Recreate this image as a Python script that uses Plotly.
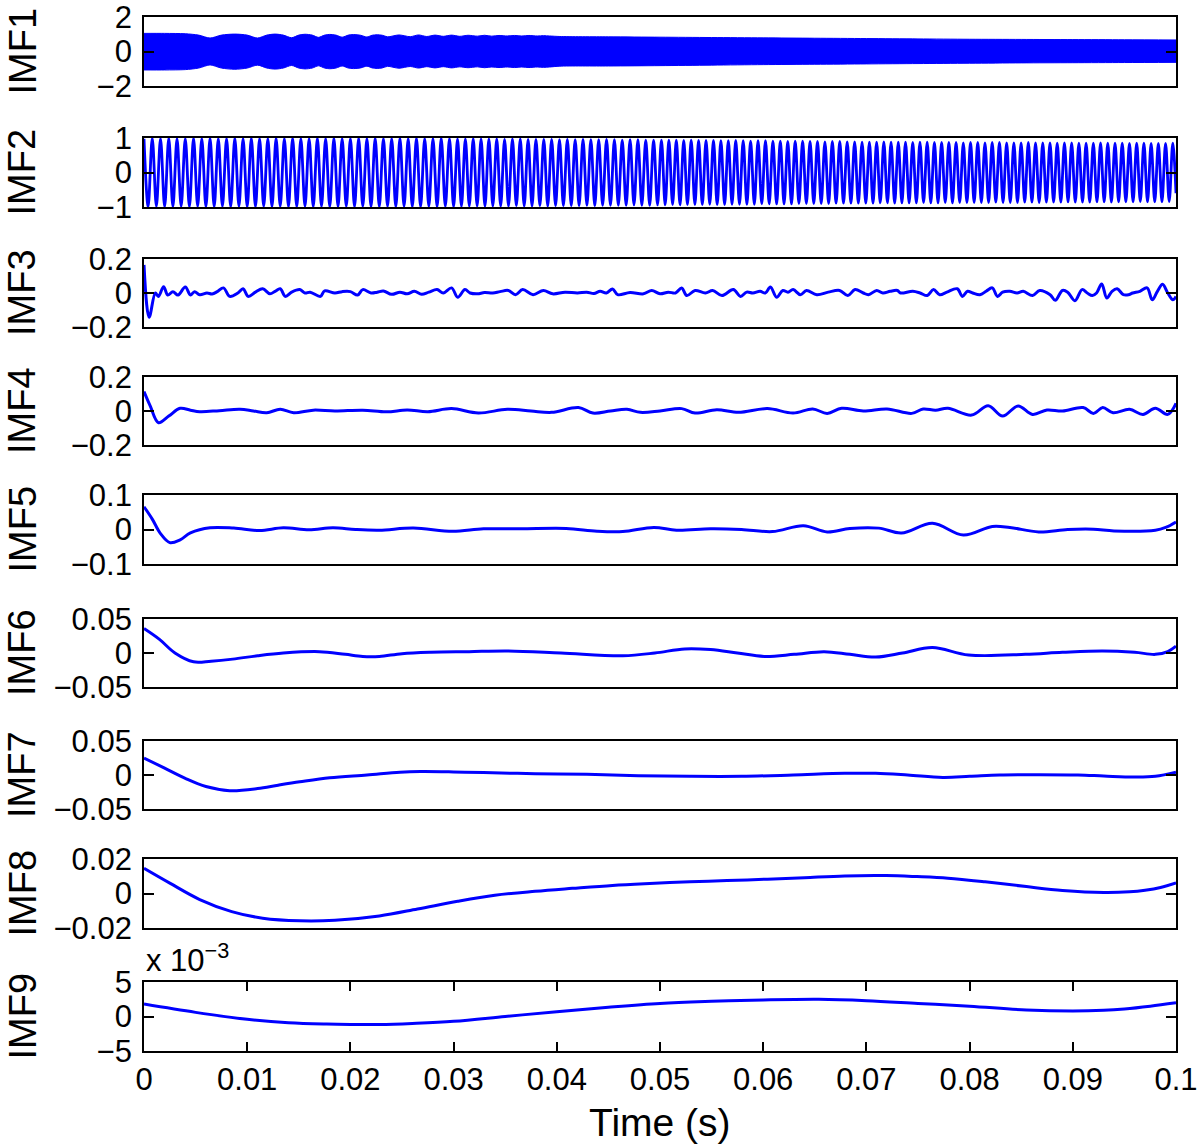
import numpy as np
import plotly.graph_objects as go
from plotly.subplots import make_subplots

# ---- data (time in ms unless noted) ----

# IMF1 is a very dense oscillation: drawn as the band between its envelopes
imf1_upper_t = [0, 2, 4, 5.3, 6.4, 7.5, 8.8, 10, 11, 11.9, 12.7, 13.5, 14.3, 15, 15.6, 16.3, 16.9, 17.5,
                18, 18.6, 19.2, 19.8, 20.3, 21, 21.6, 22.1, 22.6, 23.1, 23.6, 24.7, 25.8, 26.6, 27.4,
                28.2, 29, 29.8, 30.6, 31.4, 32.3, 33, 33.7, 34.4, 35.2, 35.9, 36.6, 37.3, 38.1, 38.7,
                39.3, 40.3, 45, 50, 55, 60, 65, 70, 75, 80, 85, 90, 95, 100]
imf1_upper_v = [1.05, 1.05, 1.03, 0.95, 0.78, 0.95, 1.01, 0.95, 0.78, 0.95, 1.01, 0.95, 0.80, 0.95, 1.00,
                0.95, 0.82, 0.95, 0.99, 0.95, 0.83, 0.95, 0.98, 0.94, 0.84, 0.94, 0.97, 0.94, 0.85, 0.96,
                0.86, 0.96, 0.87, 0.95, 0.88, 0.95, 0.88, 0.94, 0.89, 0.94, 0.89, 0.93, 0.90, 0.93, 0.90,
                0.93, 0.90, 0.92, 0.90, 0.87, 0.85, 0.83, 0.81, 0.79, 0.77, 0.75, 0.73, 0.71, 0.70, 0.69,
                0.68, 0.67]
imf1_lower_t = imf1_upper_t
imf1_lower_v = [-1.07, -1.07, -1.05, -0.96, -0.78, -0.96, -1.03, -0.96, -0.79, -0.96, -1.02, -0.96, -0.81,
                -0.96, -1.01, -0.96, -0.83, -0.96, -1.00, -0.96, -0.84, -0.96, -0.99, -0.95, -0.85, -0.95,
                -0.98, -0.95, -0.86, -0.97, -0.87, -0.96, -0.88, -0.95, -0.88, -0.95, -0.89, -0.94, -0.89,
                -0.94, -0.90, -0.93, -0.90, -0.93, -0.90, -0.93, -0.90, -0.92, -0.90, -0.85, -0.84, -0.82,
                -0.79, -0.76, -0.74, -0.72, -0.70, -0.68, -0.66, -0.65, -0.64, -0.63]

# IMF2 extrema, time in units of 10 microseconds
imf2_t = [0, 40, 80, 120, 160, 200, 240, 280, 320, 360,
          400, 440, 480, 520, 560, 600, 640, 680, 720, 760,
          800, 840, 880, 920, 960, 1000, 1040, 1080, 1120, 1160,
          1200, 1240, 1280, 1320, 1360, 1400, 1440, 1480, 1520, 1560,
          1600, 1640, 1680, 1720, 1760, 1800, 1840, 1880, 1920, 1960,
          2000, 2040, 2080, 2120, 2160, 2200, 2240, 2280, 2320, 2360,
          2400, 2440, 2480, 2520, 2560, 2600, 2640, 2680, 2720, 2760,
          2800, 2840, 2880, 2920, 2960, 3000,
          3038, 3076, 3114, 3152, 3190, 3228, 3266, 3304, 3342, 3380,
          3418, 3456, 3494, 3532, 3570, 3608, 3646, 3684, 3722, 3760,
          3798, 3836, 3874, 3912, 3950, 3988, 4026, 4064, 4102, 4140,
          4178, 4216, 4254, 4292, 4330, 4368, 4406, 4444, 4482, 4520,
          4558, 4596, 4634, 4672, 4710, 4748, 4786, 4824, 4862, 4900,
          4938, 4976, 5014,
          5050, 5086, 5122, 5158, 5194, 5230, 5266, 5302, 5338, 5374,
          5410, 5446, 5482, 5518, 5554, 5590, 5626, 5662, 5698, 5734,
          5770, 5806, 5842, 5878, 5914, 5950, 5986, 6022, 6058, 6094,
          6130, 6166, 6202, 6238, 6274, 6310, 6346, 6382, 6418, 6454,
          6490, 6526, 6562, 6598, 6634, 6670, 6706, 6742, 6778, 6814,
          6850, 6886, 6922, 6958, 6994,
          7029, 7064, 7099, 7134, 7169, 7204, 7239, 7274, 7309, 7344,
          7379, 7414, 7449, 7484, 7519, 7554, 7589, 7624, 7659, 7694,
          7729, 7764, 7799, 7834, 7869, 7904, 7939, 7974, 8009, 8044,
          8079, 8114, 8149, 8184, 8219, 8254, 8289, 8324, 8359, 8394,
          8429, 8464, 8499, 8534, 8569, 8604, 8639, 8674, 8709, 8744,
          8779, 8814, 8849, 8884, 8919, 8954, 8989, 9024, 9059, 9094,
          9129, 9164, 9199, 9234, 9269, 9304, 9339, 9374, 9409, 9444,
          9479, 9514, 9549, 9584, 9619, 9654, 9689, 9724, 9759, 9794,
          9829, 9864, 9899, 9934, 9969, 10000]
imf2_v = [0.98, -0.99, 0.99, -0.98, 0.98, -0.99, 0.99, -0.99, 0.98, -0.98,
          0.98, -0.99, 0.99, -0.98, 0.98, -0.99, 0.99, -0.99, 0.98, -0.98,
          0.98, -0.99, 0.99, -0.98, 0.98, -0.99, 0.99, -0.99, 0.98, -0.98,
          0.98, -0.99, 0.99, -0.98, 0.98, -0.99, 0.99, -0.99, 0.98, -0.98,
          0.98, -0.99, 0.99, -0.98, 0.98, -0.99, 0.99, -0.99, 0.98, -0.98,
          0.98, -0.99, 0.99, -0.98, 0.98, -0.99, 0.99, -0.99, 0.98, -0.98,
          0.98, -0.99, 0.99, -0.98, 0.98, -0.99, 0.99, -0.99, 0.98, -0.98,
          0.98, -0.99, 0.99, -0.98, 0.98, -0.99,
          0.97, -0.98, 0.97, -0.97, 0.98, -0.97, 0.97, -0.98, 0.97, -0.97,
          0.97, -0.97, 0.96, -0.97, 0.97, -0.96, 0.97, -0.97, 0.96, -0.97,
          0.96, -0.96, 0.96, -0.97, 0.96, -0.96, 0.95, -0.96, 0.96, -0.96,
          0.95, -0.96, 0.96, -0.95, 0.95, -0.96, 0.95, -0.95, 0.96, -0.95,
          0.95, -0.95, 0.94, -0.95, 0.95, -0.94, 0.95, -0.95, 0.94, -0.95,
          0.94, -0.94, 0.94,
          -0.94, 0.94, -0.93, 0.94, -0.94, 0.93, -0.93, 0.94, -0.93, 0.93,
          -0.93, 0.93, -0.92, 0.93, -0.93, 0.92, -0.93, 0.92, -0.92, 0.93,
          -0.92, 0.92, -0.92, 0.91, -0.92, 0.92, -0.91, 0.92, -0.91, 0.91,
          -0.91, 0.91, -0.91, 0.90, -0.91, 0.91, -0.90, 0.91, -0.90, 0.90,
          -0.90, 0.90, -0.90, 0.89, -0.90, 0.90, -0.89, 0.90, -0.89, 0.89,
          -0.89, 0.89, -0.89, 0.88, -0.89,
          0.88, -0.89, 0.88, -0.88, 0.89, -0.88, 0.88, -0.89, 0.88, -0.88,
          0.88, -0.88, 0.87, -0.88, 0.88, -0.87, 0.88, -0.88, 0.87, -0.88,
          0.87, -0.87, 0.87, -0.88, 0.87, -0.87, 0.86, -0.87, 0.87, -0.87,
          0.87, -0.87, 0.86, -0.87, 0.87, -0.86, 0.87, -0.87, 0.86, -0.87,
          0.86, -0.87, 0.86, -0.86, 0.87, -0.86, 0.86, -0.87, 0.86, -0.86,
          0.86, -0.86, 0.85, -0.86, 0.86, -0.85, 0.86, -0.86, 0.85, -0.86,
          0.85, -0.86, 0.85, -0.85, 0.86, -0.85, 0.85, -0.86, 0.85, -0.85,
          0.85, -0.85, 0.84, -0.85, 0.85, -0.84, 0.85, -0.85, 0.84, -0.85,
          0.84, -0.85, 0.84, -0.84, 0.85, -0.6]

imf3_t = [0, 0.5, 1.1, 1.4, 1.9, 2.3, 2.8, 3.3, 4.0, 4.5, 4.9, 5.4, 6.1, 6.6, 7.1, 7.7, 8.3, 9.1, 9.6, 10.1,
          10.8, 11.5, 12.2, 12.7, 13.2, 13.7, 14.3, 15.1, 15.6, 16.1, 17.1, 17.5, 18.5, 19.2, 20.0, 20.7,
          21.2, 22.0, 22.6, 23.2, 24.0, 24.8, 25.5, 26.2, 26.9, 27.6, 28.4, 29.0, 29.8, 30.4, 31.1, 31.6,
          32.3, 33.0, 33.8, 34.5, 35.3, 36.0, 36.7, 37.7, 38.7, 39.6, 40.8, 42.0, 42.9, 43.6, 44.2, 44.8,
          45.4, 45.9, 47.1, 48.4, 49.2, 50.0, 50.8, 51.5, 52.1, 52.6, 53.4, 54.4, 55.1, 56.0, 57.1, 57.8,
          58.4, 59.0, 59.7, 60.2, 60.7, 61.3, 61.9, 62.4, 62.9, 63.6, 64.2, 65.2, 66.3, 67.4, 68.2, 68.9,
          69.7, 70.2, 71.0, 71.6, 72.3, 73.0, 73.3, 74.5, 75.2, 75.9, 76.5, 77.1, 77.8, 78.8, 79.3, 79.8,
          80.3, 81.0, 81.6, 82.2, 82.7, 83.2, 83.9, 84.6, 85.2, 86.1, 86.8, 87.8, 88.3, 89.0, 89.5, 90.2,
          90.9, 91.4, 91.9, 92.3, 92.8, 93.3, 93.8, 94.3, 94.9, 95.4, 95.8, 96.5, 97.2, 97.7, 98.2, 98.7,
          99.2, 99.7, 100]
imf3_v = [0.165, -0.143, 0.0, -0.02, 0.037, -0.012, 0.008, -0.012, 0.035, -0.012, 0.008, -0.01, 0.0, -0.006,
          0.008, 0.03, -0.02, 0.0, 0.025, -0.02, 0.005, 0.025, -0.005, 0.01, 0.025, -0.02, 0.005, 0.02, 0.0,
          0.005, -0.02, 0.012, 0.0, 0.008, 0.008, -0.012, 0.02, 0.0, 0.005, 0.012, -0.008, 0.005, -0.005,
          0.01, -0.008, 0.005, 0.02, 0.0, 0.03, -0.025, 0.02, 0.0, -0.005, 0.003, 0.0, 0.008, 0.015, -0.01,
          0.02, -0.01, 0.015, -0.005, 0.005, 0.0, 0.005, -0.003, 0.01, 0.0, 0.024, -0.01, 0.003, -0.005,
          0.015, -0.005, 0.005, 0.0, 0.03, -0.015, 0.015, 0.0, 0.015, -0.015, 0.02, -0.02, 0.005, 0.0, 0.01,
          0.0, 0.035, -0.025, 0.015, 0.005, 0.02, -0.01, 0.015, -0.01, 0.005, 0.015, -0.015, 0.02, 0.0,
          -0.01, 0.015, 0.0, 0.01, 0.015, 0.0, 0.01, 0.0, -0.015, 0.02, -0.01, 0.005, 0.025, -0.02, 0.01,
          0.0, -0.01, 0.01, 0.03, -0.02, 0.005, 0.01, 0.0, 0.01, -0.015, 0.015, -0.01, -0.043, 0.015, 0.005,
          -0.045, 0.02, 0.0, -0.015, 0.0, 0.053, -0.03, 0.01, 0.025, -0.01, -0.01, 0.0, 0.01, 0.03, -0.04,
          0.01, 0.051, 0.0, -0.04, -0.02]

imf4_t = [0, 0.6, 1.4, 2.4, 3.5, 4.5, 5.4, 7.3, 9.3, 10.6, 11.9, 13.2, 14.5, 16.4, 18.5, 21.2, 23.5, 25.5,
          27.5, 29.8, 32.4, 35.2, 37.5, 39.5, 42.1, 43.5, 45.2, 46.8, 48.1, 50.0, 52.1, 53.4, 55.5, 57.6,
          60.4, 62.9, 64.8, 66.2, 67.6, 69.7, 72.0, 74.4, 75.5, 76.7, 77.9, 80.2, 81.8, 83.2, 84.7, 86.1,
          87.5, 89.0, 91.0, 92.0, 92.9, 93.9, 95.5, 96.8, 98.0, 99.2, 100]
imf4_v = [0.114, 0.03, -0.069, -0.03, 0.016, 0.005, -0.004, 0.002, 0.01, 0.0, -0.01, 0.01, -0.01, 0.005, 0.0,
          0.005, -0.005, 0.006, -0.004, 0.014, -0.012, 0.01, 0.0, -0.008, 0.02, -0.012, 0.0, 0.01, -0.008,
          0.0, 0.014, -0.012, 0.008, -0.008, 0.014, -0.012, 0.012, -0.014, 0.016, 0.0, 0.012, -0.014, 0.012,
          0.005, 0.016, -0.024, 0.031, -0.03, 0.03, -0.02, 0.006, 0.0, 0.02, -0.014, 0.02, -0.01, 0.01,
          -0.02, 0.016, -0.02, 0.045]

imf5_t = [0, 0.8, 1.6, 2.5, 3.5, 4.5, 6.4, 8.7, 11.2, 13.5, 16.0, 18.3, 20.5, 22.8, 26.1, 29.9, 32.9, 36.5,
          40.9, 43.9, 46.4, 49.4, 51.6, 54.9, 57.9, 60.9, 63.9, 66.2, 68.4, 71.2, 73.4, 76.4, 79.4, 82.2,
          83.9, 86.7, 89.5, 92.0, 94.0, 98.0, 99.0, 100]
imf5_v = [0.066, 0.03, -0.012, -0.038, -0.03, -0.01, 0.005, 0.004, -0.003, 0.005, -0.001, 0.005, 0.0, -0.002,
          0.004, -0.005, 0.002, 0.002, 0.003, -0.005, -0.006, 0.006, -0.002, 0.002, 0.0, -0.006, 0.011,
          -0.007, 0.003, 0.004, -0.01, 0.018, -0.016, 0.009, 0.006, -0.007, 0.0, 0.001, -0.004, -0.002,
          0.006, 0.022]

imf6_t = [0, 1.5, 3.0, 4.8, 6.5, 8.6, 11.0, 13.5, 17.0, 19.5, 21.2, 22.8, 25.0, 27.8, 31.5, 35.3, 40.4,
          46.4, 49.5, 52.4, 54.9, 57.5, 60.1, 63.0, 65.9, 68.4, 70.9, 73.5, 76.4, 79.9, 85.4, 89.0, 92.9,
          96.0, 98.0, 99.2, 100]
imf6_v = [0.036, 0.02, 0.0, -0.013, -0.012, -0.009, -0.004, 0.0, 0.002, -0.002, -0.005, -0.005, -0.001,
          0.001, 0.002, 0.003, 0.0, -0.004, 0.0, 0.006, 0.005, 0.0, -0.005, -0.002, 0.002, -0.002, -0.006,
          0.0, 0.008, -0.003, -0.002, 0.001, 0.003, 0.001, -0.002, 0.002, 0.01]

imf7_t = [0, 2.0, 4.0, 6.0, 8.3, 11.0, 13.0, 15.1, 18.0, 21.6, 24.8, 26.8, 30.0, 32.9, 37.9, 42.9, 47.9,
          52.9, 57.9, 62.9, 67.9, 70.9, 74.0, 77.4, 80.0, 82.9, 86.5, 90.5, 93.0, 95.9, 98.0, 100]
imf7_v = [0.025, 0.01, -0.005, -0.017, -0.023, -0.02, -0.015, -0.01, -0.004, 0.0, 0.004, 0.005, 0.0045,
          0.0035, 0.002, 0.001, -0.001, -0.002, -0.002, 0.0, 0.0024, 0.0025, 0.0, -0.0035, -0.002, 0.0,
          0.0005, 0.0, -0.0015, -0.003, -0.002, 0.004]

imf8_t = [0, 2.5, 5.4, 8.5, 11.5, 15.1, 18.5, 22.8, 26.5, 30.4, 34.0, 37.9, 41.5, 45.4, 49.0, 52.9, 56.5,
          60.4, 64.0, 67.9, 71.9, 74.9, 77.9, 81.5, 85.5, 89.0, 93.0, 95.5, 97.0, 98.5, 100]
imf8_v = [0.0146, 0.006, -0.0035, -0.0105, -0.0143, -0.0158, -0.0155, -0.013, -0.009, -0.0045, -0.001,
          0.0013, 0.003, 0.0047, 0.0058, 0.0068, 0.0075, 0.0083, 0.0092, 0.0102, 0.0104, 0.0098, 0.0089,
          0.0068, 0.004, 0.0018, 0.0006, 0.001, 0.0019, 0.0035, 0.0062]

# IMF9 values in units of 1e-3 (as on its axis)
imf9_t = [0, 5, 10, 14, 17.7, 20, 22.8, 26, 30, 35, 40, 45, 50, 55, 60, 65.4, 70, 75, 80, 85.5, 90, 93,
          95, 97.5, 100]
imf9_v = [1.8, 0.6, -0.4, -0.9, -1.1, -1.15, -1.15, -1.0, -0.7, 0.0, 0.7, 1.35, 1.9, 2.2, 2.4, 2.5, 2.3,
          1.9, 1.5, 0.95, 0.8, 0.9, 1.1, 1.5, 2.0]

labels = ["IMF1", "IMF2", "IMF3", "IMF4", "IMF5", "IMF6", "IMF7", "IMF8", "IMF9"]
y_limits = [2, 1, 0.2, 0.2, 0.1, 0.05, 0.05, 0.02, 5]
y_ticktext = [["−2", "0", "2"], ["−1", "0", "1"], ["−0.2", "0", "0.2"], ["−0.2", "0", "0.2"],
              ["−0.1", "0", "0.1"], ["−0.05", "0", "0.05"], ["−0.05", "0", "0.05"],
              ["−0.02", "0", "0.02"], ["−5", "0", "5"]]
x_tickvals = [0, 0.01, 0.02, 0.03, 0.04, 0.05, 0.06, 0.07, 0.08, 0.09, 0.1]
x_ticktext = ["0", "0.01", "0.02", "0.03", "0.04", "0.05", "0.06", "0.07", "0.08", "0.09", "0.1"]

# ---- layout geometry (page pixels; body margin removed so the figure fills the page) ----
W, H = 1200, 1145
L, R, T, B = 144, 1176, 17, 1051
panel_px = [(17, 86), (138, 207), (259, 327), (377, 445), (495, 564),
            (619, 687), (741, 809), (859, 928), (982, 1051)]

BLUE = "#0000ff"
FONT = "Liberation Sans, Arial, Helvetica, sans-serif"

fig = make_subplots(rows=9, cols=1)

# IMF1 band: lower envelope, then upper envelope filled down to it
fig.add_trace(go.Scatter(x=np.array(imf1_lower_t) / 1000, y=imf1_lower_v, mode="lines",
                         line=dict(color=BLUE, width=1, shape="spline", smoothing=0.8),
                         showlegend=False),
              row=1, col=1)
fig.add_trace(go.Scatter(x=np.array(imf1_upper_t) / 1000, y=imf1_upper_v, mode="lines",
                         fill="tonexty", fillcolor=BLUE,
                         line=dict(color=BLUE, width=1, shape="spline", smoothing=0.8),
                         showlegend=False),
              row=1, col=1)

fig.add_trace(go.Scatter(x=np.array(imf2_t) / 1e5, y=imf2_v, mode="lines",
                         line=dict(color=BLUE, width=2.8, shape="spline"), showlegend=False),
              row=2, col=1)

series = [(imf3_t, imf3_v), (imf4_t, imf4_v), (imf5_t, imf5_v), (imf6_t, imf6_v),
          (imf7_t, imf7_v), (imf8_t, imf8_v), (imf9_t, imf9_v)]
for k, (t, v) in enumerate(series):
    fig.add_trace(go.Scatter(x=np.array(t) / 1000, y=v, mode="lines",
                             line=dict(color=BLUE, width=3, shape="spline"), showlegend=False),
                  row=k + 3, col=1)

tick_font = dict(family=FONT, size=31, color="black")
for i in range(9):
    top, bot = panel_px[i]
    dom = [(B - bot) / (B - T), (B - top) / (B - T)]
    r = y_limits[i]
    fig.update_yaxes(row=i + 1, col=1, domain=dom, range=[-r, r], tickvals=[-r, 0, r],
                     ticktext=y_ticktext[i], ticks="inside", ticklen=10, tickwidth=1.5,
                     tickcolor="black", showline=True, linecolor="black", linewidth=1.8,
                     mirror="ticks", showgrid=False, zeroline=False, tickfont=tick_font,
                     ticklabelstandoff=4, ticklabeloverflow="allow", automargin=False)
    last = i == 8
    fig.update_xaxes(row=i + 1, col=1, range=[0, 0.1], showline=True, linecolor="black",
                     linewidth=1.8, mirror="ticks" if last else True, showgrid=False,
                     zeroline=False, ticks="inside" if last else "", ticklen=9, tickwidth=1.5,
                     tickcolor="black", tickvals=x_tickvals if last else [],
                     ticktext=x_ticktext if last else [], showticklabels=last,
                     tickfont=tick_font, ticklabelstandoff=0, ticklabeloverflow="allow",
                     automargin=False)
    fig.add_annotation(text=labels[i], xref="paper", yref="paper",
                       x=(22 - L) / (R - L), y=(dom[0] + dom[1]) / 2, textangle=-90,
                       showarrow=False, xanchor="center", yanchor="middle",
                       font=dict(family=FONT, size=38, color="black"))

fig.add_annotation(text="Time (s)", xref="paper", yref="paper", x=0.5, y=(B - 1122) / (B - T),
                   showarrow=False, xanchor="center", yanchor="middle",
                   font=dict(family=FONT, size=39, color="black"))
fig.add_annotation(text="x 10<sup>−3</sup>", xref="paper", yref="paper", x=0, y=(B - 958) / (B - T),
                   showarrow=False, xanchor="left", yanchor="middle",
                   font=dict(family=FONT, size=31, color="black"))

fig.update_layout(width=W, height=H,
                  margin=dict(l=L, r=W - R, t=T, b=H - B),
                  paper_bgcolor="white", plot_bgcolor="white", showlegend=False,
                  font=dict(family=FONT, color="black"))

fig.write_html("out.html", config={"displayModeBar": False},
               post_script="document.body.style.margin = '0';")
